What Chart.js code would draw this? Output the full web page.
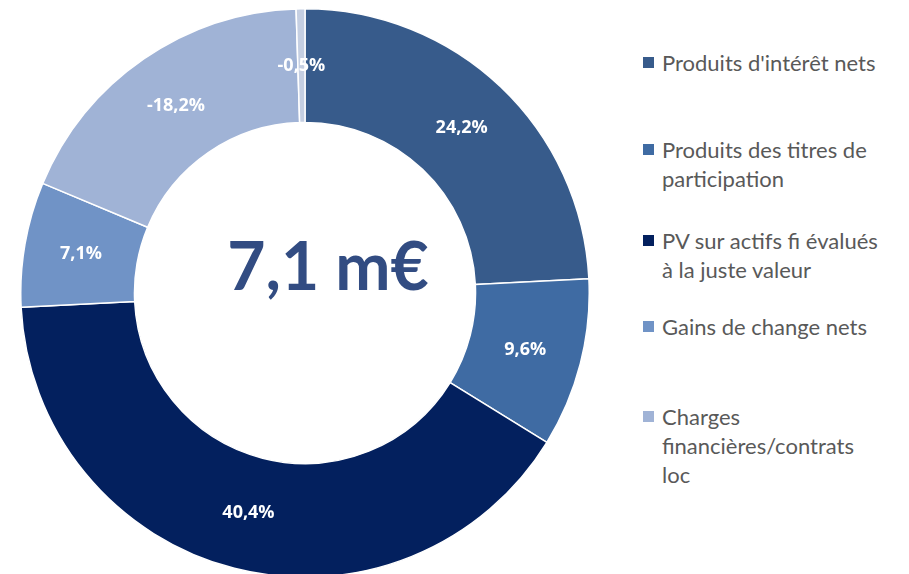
<!DOCTYPE html>
<html>
<head>
<meta charset="utf-8">
<script src="https://cdn.jsdelivr.net/npm/chart.js@4.4.1/dist/chart.umd.min.js"></script>
<style>
  html, body { margin: 0; padding: 0; background: #fff; width: 909px; height: 574px; overflow: hidden; }
  #wrap { position: absolute; left: 20px; top: 8px; width: 570px; height: 570px; }
  #legend { position: absolute; left: 643px; top: 0; font-family: Lato, sans-serif; font-size: 22px; color: #595959; }
  .item { position: absolute; left: 0; white-space: nowrap; line-height: 29px; }
  .box { position: absolute; left: 0; top: 9px; width: 11px; height: 11px; }
  .txt { position: absolute; left: 19px; top: 0; }
</style>
</head>
<body>
<div id="wrap"><canvas id="myChart" width="570" height="570"></canvas></div>
<div id="legend"></div>
<script>
// slices, clockwise from 12 o'clock
const labels = [
  "Produits d'intérêt nets",
  "Produits des titres de participation",
  "PV sur actifs fi évalués à la juste valeur",
  "Gains de change nets",
  "Charges financières/contrats loc",
  "",
];
const shares = [24.2, 9.6, 40.4, 7.1, -18.2, -0.5];
const totalText = "7,1 m€";

// legend text as it wraps in the picture
const legendLines = [
  ["Produits d'intérêt nets"],
  ["Produits des titres de", "participation"],
  ["PV sur actifs fi évalués", "à la juste valeur"],
  ["Gains de change nets"],
  ["Charges", "financières/contrats", "loc"],
];

const colors = ["#375B8B", "#3F6BA3", "#03205E", "#7093C6", "#A0B3D6", "#C5CFE2"];
const legendTops = [48, 135, 226, 312, 402];

function fmt(v) {
  return v.toFixed(1).replace(".", ",") + "%";
}

// percent labels + center total
const sliceLabels = {
  id: "sliceLabels",
  afterDatasetsDraw(chart) {
    const ctx = chart.ctx;
    const meta = chart.getDatasetMeta(0);
    ctx.save();
    ctx.fillStyle = "#fff";
    ctx.font = "bold 18px 'Open Sans'";
    ctx.textAlign = "center";
    ctx.textBaseline = "middle";
    meta.data.forEach((arc, i) => {
      const p = arc.tooltipPosition();
      ctx.fillText(fmt(shares[i]), p.x, p.y);
    });
    const arc0 = meta.data[0];
    ctx.fillStyle = "#324C82";
    ctx.font = "bold 66px Lato";
    ctx.textBaseline = "alphabetic";
    ctx.fillText(totalText, arc0.x + 23, arc0.y - 3);
    ctx.restore();
  },
};

const config = {
  type: "doughnut",
  data: {
    labels: labels,
    datasets: [
      {
        data: shares.map(Math.abs),
        backgroundColor: colors,
        borderColor: "#fff",
        borderWidth: 1.5,
      },
    ],
  },
  options: {
    responsive: false,
    animation: false,
    cutout: "60%",
    layout: { padding: 0 },
    plugins: {
      legend: { display: false },
      tooltip: { enabled: false },
    },
  },
  plugins: [sliceLabels],
};

const chart = new Chart(document.getElementById("myChart"), config);

// html legend (the small last slice has no entry)
const legend = document.getElementById("legend");
legendLines.forEach((lines, i) => {
  const item = document.createElement("div");
  item.className = "item";
  item.style.top = legendTops[i] + "px";
  const box = document.createElement("div");
  box.className = "box";
  box.style.background = colors[i];
  const txt = document.createElement("div");
  txt.className = "txt";
  txt.innerHTML = lines.join("<br>");
  item.appendChild(box);
  item.appendChild(txt);
  legend.appendChild(item);
});
</script>
</body>
</html>
